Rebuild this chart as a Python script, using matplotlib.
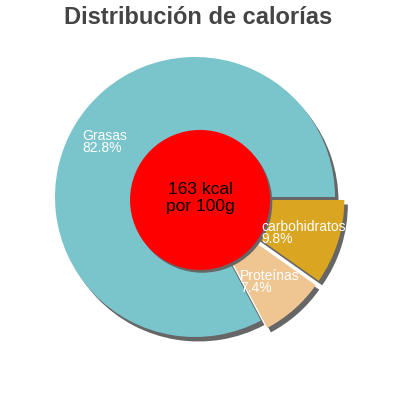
import matplotlib
matplotlib.use("Agg")
import matplotlib.pyplot as plt

labels = ["Grasas", "Proteínas", "carbohidratos"]
values = [82.8, 7.4, 9.8]
colors = ["#7ac4cc", "#efc592", "#daa521"]
explode = [0.0, 0.07, 0.07]
center_lines = ["163 kcal", "por 100g"]
title = "Distribución de calorías"

plt.rcParams['font.family'] = ['Liberation Sans', 'DejaVu Sans']

fig = plt.figure(figsize=(4, 4), dpi=100)
ax = fig.add_axes([0, 0, 1, 1])
R = 140.0

# shadow
ax.pie(values, explode=explode, startangle=0, counterclock=True,
       colors=["#666666"] * len(values), center=(0.025, -0.032),
       wedgeprops=dict(linewidth=0), frame=True)
# pie
wedges, _ = ax.pie(values, explode=explode, startangle=0, counterclock=True,
                   colors=colors, wedgeprops=dict(linewidth=0), frame=True)
ax.set_xlim(-195 / R, 205 / R)
ax.set_ylim((197 - 400) / R, 197 / R)
ax.set_aspect('equal')
ax.axis('off')

cx, cy, cr = 0.036, -0.021, 0.5
ax.add_patch(plt.Circle((cx + 0.016, cy - 0.02), cr, color="#666666", zorder=4, linewidth=0))
ax.add_patch(plt.Circle((cx, cy), cr, color="#ff0000", zorder=5, linewidth=0))
ax.text(cx, -0.007, "\n".join(center_lines), ha='center', va='center',
        fontsize=12.5, color='black', zorder=6, linespacing=1.15)

label_pos = {"Grasas": (-0.807, 0.393), "Proteínas": (0.321, -0.607),
             "carbohidratos": (0.471, -0.257)}
for lab, v in zip(labels, values):
    x, y = label_pos[lab]
    ax.text(x, y, f"{lab}\n{v:.1f}%", ha='left', va='center', fontsize=10,
            color='white', zorder=7, linespacing=0.85)

fig.text(0.495, 1 - 18 / 400, title, ha='center', va='center', fontsize=17,
         fontweight='bold', color='#444444')

fig.savefig("out.png", dpi=100)
